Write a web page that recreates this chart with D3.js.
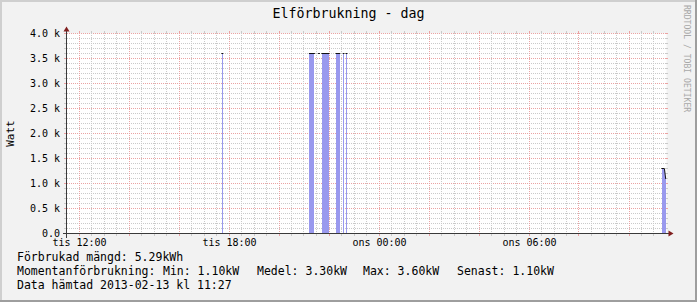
<!DOCTYPE html>
<html>
<head>
<meta charset="utf-8">
<script src="https://cdn.jsdelivr.net/npm/d3@7/dist/d3.min.js"></script>
<style>
body { margin: 0; background: #f2f2f2; }
svg { display: block; }
text { font-family: "DejaVu Sans Mono", monospace; fill: #000; }
</style>
</head>
<body>
<svg id="chart"></svg>
<script>
// power readings: each run is a stretch where the meter reported a value
const runStart = ["2013-02-12 17:43", "2013-02-12 21:13", "2013-02-12 21:35", "2013-02-12 21:43",
                  "2013-02-12 22:17", "2013-02-12 22:34", "2013-02-12 22:41", "2013-02-13 11:19", "2013-02-13 11:25"];
const runEnd   = ["2013-02-12 17:45", "2013-02-12 21:25", "2013-02-12 21:37", "2013-02-12 22:00",
                  "2013-02-12 22:26", "2013-02-12 22:36", "2013-02-12 22:43", "2013-02-13 11:25", "2013-02-13 11:28"];
const runFrom  = [3600, 3600, 3600, 3600, 3600, 3600, 3600, 1300, 1300];
const runTo    = [3600, 3600, 3600, 3600, 3600, 3600, 3600, 1300, 1100];

const timeDomain = ["2013-02-12 11:30", "2013-02-13 11:30"];
const yTicks = [0, 500, 1000, 1500, 2000, 2500, 3000, 3500, 4000];
const yTickLabels = ["0.0", "0.5 k", "1.0 k", "1.5 k", "2.0 k", "2.5 k", "3.0 k", "3.5 k", "4.0 k"];
const xTicks = ["2013-02-12 12:00", "2013-02-12 18:00", "2013-02-13 00:00", "2013-02-13 06:00"];
const xTickLabels = ["tis 12:00", "tis 18:00", "ons 00:00", "ons 06:00"];

const title = "Elförbrukning - dag";
const summaryLine = "Förbrukad mängd: 5.29kWh";
const statHeader = "Momentanförbrukning:";
const statNames = ["Min:", "Medel:", "Max:", "Senast:"];
const statValues = ["1.10kW", "3.30kW", "3.60kW", "1.10kW"];
const fetchedLine = "Data hämtad 2013-02-13 kl 11:27";

let W = 697, H = 302;
let plot = { left: 66.5, right: 666.5, top: 33.5, bottom: 233.5 };

let parse = d3.timeParse("%Y-%m-%d %H:%M");

let x = d3.scaleTime()
    .domain(timeDomain.map(parse))
    .range([plot.left, plot.right]);

let y = d3.scaleLinear()
    .domain([0, 4000])
    .range([plot.bottom, plot.top]);

let svg = d3.select("#chart")
    .attr("width", W)
    .attr("height", H);

//background + rrdtool style shaded border
svg.append("rect").attr("width", W).attr("height", H).attr("fill", "#f2f2f2");
svg.append("path").attr("d", `M0,${H} V0 H${W}`).attr("fill", "none").attr("stroke", "#cfcfcf").attr("stroke-width", 4);
svg.append("path").attr("d", `M0,${H} H${W} V0`).attr("fill", "none").attr("stroke", "#9e9e9e").attr("stroke-width", 4);

//canvas
svg.append("rect")
    .attr("x", plot.left).attr("y", plot.top)
    .attr("width", plot.right - plot.left).attr("height", plot.bottom - plot.top)
    .attr("fill", "#fff");

let snap = v => Math.floor(v) + 0.5;
let grid = svg.append("g").attr("shape-rendering", "crispEdges");
const minorCol = "#cacaca", majorCol = "#eba3a3";
// dash ends sit on whole pixels so the 1,1 pattern stays dotted
let gx0 = Math.ceil(plot.left), gx1 = Math.floor(plot.right);
let gy0 = Math.floor(plot.top), gy1 = Math.floor(plot.bottom);

//horizontal grid lines, every 100 W, red every 500 W
d3.range(100, 4001, 100).forEach(function (v) {
    let major = v % 500 === 0;
    let yy = snap(y(v));
    let col = major ? majorCol : minorCol;
    grid.append("line").attr("x1", gx0).attr("x2", gx1).attr("y1", yy).attr("y2", yy)
        .attr("stroke", col).attr("stroke-dasharray", "1,1");
    grid.append("line").attr("x1", gx0 - 3).attr("x2", gx0 - 1).attr("y1", yy).attr("y2", yy).attr("stroke", col);
    grid.append("line").attr("x1", gx1).attr("x2", gx1 + 2).attr("y1", yy).attr("y2", yy).attr("stroke", col);
})

//vertical grid lines, every 30 min, red every 2 hours
d3.timeMinute.every(30).range(x.domain()[0], x.domain()[1]).forEach(function (t) {
    if (t <= x.domain()[0]) return;
    let major = t.getMinutes() === 0 && t.getHours() % 2 === 0;
    let xx = snap(x(t));
    let col = major ? majorCol : minorCol;
    grid.append("line").attr("x1", xx).attr("x2", xx).attr("y1", gy0).attr("y2", gy1)
        .attr("stroke", col).attr("stroke-dasharray", "1,1");
    grid.append("line").attr("x1", xx).attr("x2", xx).attr("y1", gy0 - 2).attr("y2", gy0).attr("stroke", col);
    grid.append("line").attr("x1", xx).attr("x2", xx).attr("y1", gy1 + 1).attr("y2", gy1 + 3).attr("stroke", col);
})

//build point list, gaps where the runs are not contiguous
let points = [];
runStart.forEach(function (s, i) {
    if (i > 0 && s !== runEnd[i - 1]) points.push({ t: parse(s), v: null });
    if (i === 0 || s !== runEnd[i - 1]) points.push({ t: parse(s), v: runFrom[i] });
    points.push({ t: parse(runEnd[i]), v: runTo[i] });
})

let area = d3.area()
    .defined(d => d.v !== null)
    .x(d => x(d.t))
    .y0(y(0))
    .y1(d => y(d.v));

let line = d3.line()
    .defined(d => d.v !== null)
    .x(d => x(d.t))
    .y(d => y(d.v));

svg.append("path")
    .datum(points)
    .attr("d", area)
    .attr("fill", "#9999ee")
    .attr("shape-rendering", "crispEdges");

svg.append("path")
    .datum(points)
    .attr("d", line)
    .attr("fill", "none")
    .attr("stroke", "#111")
    .attr("stroke-width", 1)
    .attr("stroke-linecap", "square");

//axes lines and arrows
let ax = svg.append("g").attr("shape-rendering", "crispEdges");
ax.append("line").attr("x1", plot.left - 4).attr("x2", plot.right + 4)
    .attr("y1", plot.bottom).attr("y2", plot.bottom).attr("stroke", "#3a3a3a");
ax.append("line").attr("x1", plot.left).attr("x2", plot.left)
    .attr("y1", plot.bottom + 4).attr("y2", plot.top - 4).attr("stroke", "#3a3a3a");
svg.append("path")
    .attr("d", `M${plot.right + 2},${plot.bottom - 3}L${plot.right + 2},${plot.bottom + 3}L${plot.right + 7},${plot.bottom}Z`)
    .attr("fill", "#801f1f");
svg.append("path")
    .attr("d", `M${plot.left - 3},${plot.top - 2}L${plot.left + 3},${plot.top - 2}L${plot.left},${plot.top - 7}Z`)
    .attr("fill", "#801f1f");

//tick labels
let yAxis = d3.axisLeft(y)
    .tickValues(yTicks)
    .tickFormat((d, i) => yTickLabels[i])
    .tickSize(0)
    .tickPadding(6.5);

let gy = svg.append("g")
    .attr("transform", "translate(" + plot.left + ",0)")
    .call(yAxis)
    .attr("font-size", 10);
gy.select(".domain").remove();
gy.selectAll("line").remove();

let xAxis = d3.axisBottom(x)
    .tickValues(xTicks.map(parse))
    .tickFormat((d, i) => xTickLabels[i])
    .tickSize(0)
    .tickPadding(5.4);

let gx = svg.append("g")
    .attr("transform", "translate(0," + plot.bottom + ")")
    .call(xAxis)
    .attr("font-size", 10);
gx.select(".domain").remove();
gx.selectAll("line").remove();

//title, unit, watermark
svg.append("text")
    .attr("x", W / 2).attr("y", 18)
    .attr("text-anchor", "middle")
    .attr("font-size", 13.3)
    .text(title);

svg.append("text")
    .attr("transform", "translate(13.5," + (plot.top + plot.bottom) / 2 + ") rotate(-90)")
    .attr("text-anchor", "middle")
    .attr("font-size", 11)
    .text("Watt");

svg.append("text")
    .attr("transform", "translate(687,5) rotate(90)")
    .attr("dominant-baseline", "central")
    .attr("font-size", 8.1)
    .style("fill", "#a8a8a8")
    .text("RRDTOOL / TOBI OETIKER");

//legend
let legend = svg.append("g").attr("font-size", 11.5);
legend.append("text").attr("x", 17).attr("y", 261).text(summaryLine);
legend.append("text").attr("x", 17).attr("y", 275).text(statHeader);
let statX = [163, 257, 363, 457];
statNames.forEach(function (n, i) {
    legend.append("text").attr("x", statX[i]).attr("y", 275).text(n + " " + statValues[i]);
})
legend.append("text").attr("x", 17).attr("y", 289).text(fetchedLine);
</script>
</body>
</html>
